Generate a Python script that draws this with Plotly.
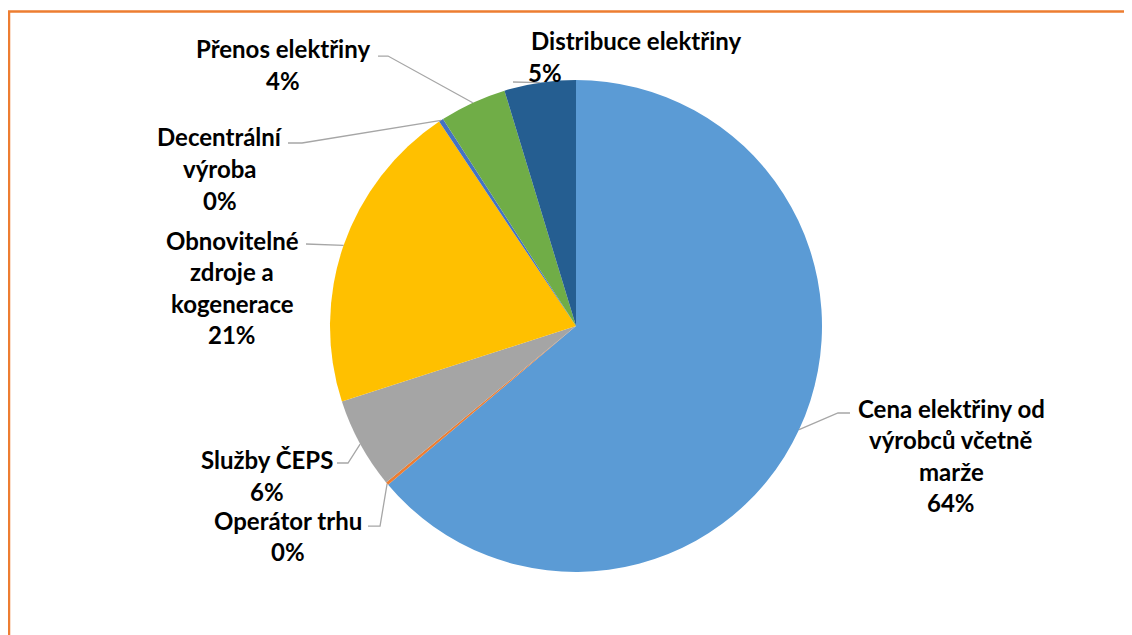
import math
import plotly.graph_objects as go

# ---- data ----
categories = [
    "Cena elektřiny od výrobců včetně marže",
    "Operátor trhu",
    "Služby ČEPS",
    "Obnovitelné zdroje a kogenerace",
    "Decentrální výroba",
    "Přenos elektřiny",
    "Distribuce elektřiny",
]
values = [63.9, 0.2, 6.0, 20.6, 0.3, 4.4, 4.7]
label_lines = [
    ["Cena elektřiny od", "výrobců včetně", "marže"],
    ["Operátor trhu"],
    ["Služby ČEPS"],
    ["Obnovitelné", "zdroje a", "kogenerace"],
    ["Decentrální", "výroba"],
    ["Přenos elektřiny"],
    ["Distribuce elektřiny"],
]
colors = ["#5B9BD5", "#ED7D31", "#A5A5A5", "#FFC000", "#4472C4", "#70AD47", "#255E91"]

# ---- layout (page pixels; the page body has an 8px margin) ----
OFF = 8
W, H = 1132 - OFF, 635 - OFF
CX, CY, R = 576, 326, 246

def px(x):
    return (x - OFF) / W

def py(y):
    return 1 - (y - OFF) / H

fig = go.Figure(go.Pie(
    labels=categories, values=values, sort=False, direction="clockwise",
    rotation=0, textinfo="none", hoverinfo="label+percent",
    marker=dict(colors=colors, line=dict(width=0)),
    domain=dict(x=[px(CX - R), px(CX + R)], y=[py(CY + R), py(CY - R)]),
    showlegend=False,
))

FONT = dict(family="Lato", size=24, color="#000000")
LS = 31.5
place = [
    dict(x=951, y=408, path=[(850, 413), (838, 413)]),
    dict(x=288, y=520, path=[(368, 526), (380, 526)]),
    dict(x=267, y=460, path=[(337, 463), (348, 463)]),
    dict(x=232, y=240, path=[(306, 244)]),
    dict(x=220, y=137, path=[(288, 143), (302, 143)]),
    dict(x=283, y=49, path=[(378, 56), (388, 56)]),
    dict(x=636, y=41, path=[(513, 82)], pct_x=545),
]

total = sum(values)
cum = 0.0
annotations = []
shapes = []
for i, v in enumerate(values):
    mid = (cum + v / 2) / total * 2 * math.pi
    cum += v
    ax = CX + R * math.sin(mid)
    ay = CY - R * math.cos(mid)
    p = place[i]
    lines = label_lines[i] + ["{:.0f}%".format(round(v / total * 100))]
    for j, t in enumerate(lines):
        xx = p["x"]
        if j == len(lines) - 1 and "pct_x" in p:
            xx = p["pct_x"]
        annotations.append(dict(
            x=px(xx), y=py(p["y"] + j * LS), xref="paper", yref="paper",
            text="<b>" + t + "</b>", showarrow=False, font=FONT,
            xanchor="center", yanchor="middle",
        ))
    pts = p["path"] + [(ax, ay)]
    path = "M " + " L ".join("{:.4f},{:.4f}".format(px(a), py(b)) for a, b in pts)
    shapes.append(dict(type="path", path=path, xref="paper", yref="paper",
                       line=dict(color="#A6A6A6", width=1.3)))

# orange frame
shapes.append(dict(type="rect", xref="paper", yref="paper",
                   x0=px(9), x1=1.02, y0=-0.02, y1=py(11.5),
                   line=dict(color="#ED7D31", width=2.5)))

fig.update_layout(
    width=W, height=H, margin=dict(l=0, r=0, t=0, b=0),
    paper_bgcolor="white", plot_bgcolor="white",
    annotations=annotations, shapes=shapes,
)
fig.write_html("out.html")
